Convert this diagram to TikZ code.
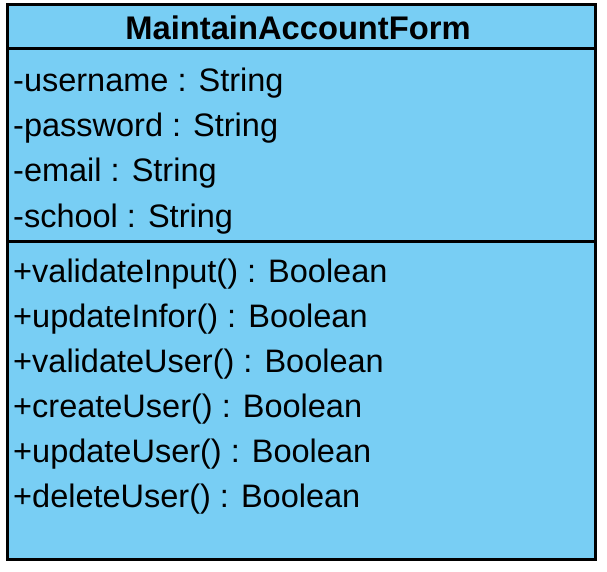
\documentclass[tikz,border=0pt]{standalone}
\usepackage{fontspec}
\setmainfont{Liberation Sans}
\definecolor{classfill}{RGB}{120,206,244}
\begin{document}
\begin{tikzpicture}[x=1pt,y=-1pt,
  member/.style={anchor=base west,inner sep=0pt,font=\fontsize{32.5}{36}\selectfont},
  title/.style={anchor=base,inner sep=0pt,font=\fontsize{32.7}{36}\selectfont\bfseries},
  box/.style={draw=black,line width=3pt,fill=classfill}]
\useasboundingbox (0,0) rectangle (607,572);
\draw[box] (7,5) rectangle (595,559);
\draw[line width=3pt] (7,48.5) -- (595,48.5);
\draw[line width=3pt] (7,241.5) -- (595,241.5);
\node[title] (t) at (298,40) {MaintainAccountForm};
\node[member] (a1) at (13,92) {-username : String};
\node[member] (a2) at (13,137) {-password : String};
\node[member] (a3) at (13,182) {-email : String};
\node[member] (a4) at (13,227) {-school : String};
\node[member] (o1) at (13,282) {+validateInput() : Boolean};
\node[member] (o2) at (13,327) {+updateInfor() : Boolean};
\node[member] (o3) at (13,372) {+validateUser() : Boolean};
\node[member] (o4) at (13,417) {+createUser() : Boolean};
\node[member] (o5) at (13,462) {+updateUser() : Boolean};
\node[member] (o6) at (13,507) {+deleteUser() : Boolean};
\end{tikzpicture}
\end{document}
